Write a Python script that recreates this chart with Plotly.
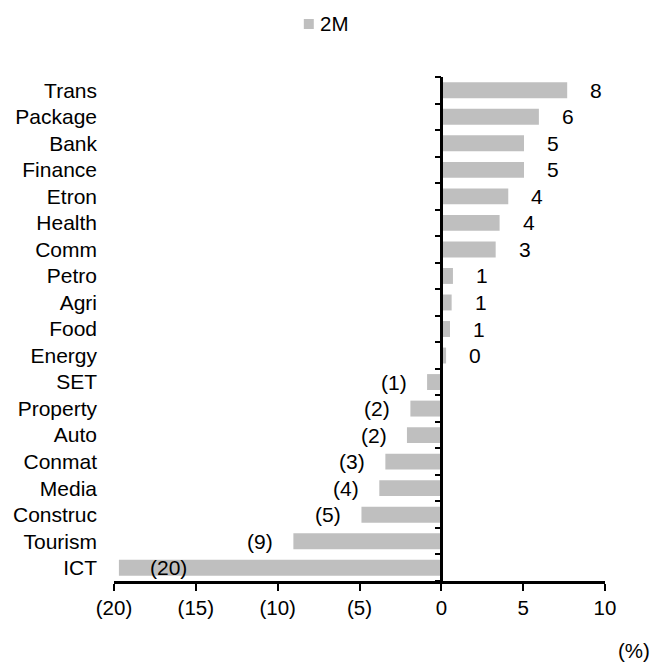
import plotly.graph_objects as go

# Sector returns over two months (%), top to bottom as listed
sectors = ["Trans", "Package", "Bank", "Finance", "Etron", "Health", "Comm",
           "Petro", "Agri", "Food", "Energy", "SET", "Property", "Auto",
           "Conmat", "Media", "Construc", "Tourism", "ICT"]
returns_2m = [7.69, 5.96, 5.05, 5.05, 4.09, 3.56, 3.32,
              0.71, 0.63, 0.53, 0.29, -0.87, -1.89, -2.10,
              -3.42, -3.79, -4.88, -9.04, -19.7]
x_ticks = [-20, -15, -10, -5, 0, 5, 10]
series_name = "2M"
unit_label = "(%)"

FONT = "Liberation Sans, Arial, sans-serif"
FS = 21
BAR = "#BFBFBF"

W, H = 653, 664
ML, MR, MT, MB = 114, 47.5, 77, 83
X_MIN, X_MAX = -20, 10


def fmt(v):
    return f"{v:.0f}" if v >= 0 else f"({abs(v):.0f})"


def px_to_paper(px, py):
    """Convert page pixels to paper coordinates of the plot area."""
    pw = W - ML - MR
    ph = H - MT - MB
    return (px - ML) / pw, (H - MB - py) / ph


# plot from the bottom category upwards
order = list(reversed(sectors))

fig = go.Figure()
fig.add_trace(go.Bar(
    x=returns_2m, y=sectors, orientation="h", name=series_name,
    marker=dict(color=BAR, line=dict(width=0)),
    showlegend=False,
))
# empty trace to carry the zero-line axis
fig.add_trace(go.Scatter(x=[None], y=[None], yaxis="y2", showlegend=False,
                         hoverinfo="skip"))

# value labels beside the bar ends
for s, v in zip(sectors, returns_2m):
    if v >= 0:
        xanchor, shift = "left", 21
    elif v < X_MIN + 3:
        # no room outside the bar: keep the label inside it
        xanchor, shift = "left", 29
    else:
        xanchor, shift = "right", -18
    fig.add_annotation(x=v, y=s, xref="x", yref="y", text=fmt(v),
                       showarrow=False, xanchor=xanchor, yanchor="middle",
                       xshift=shift, font=dict(family=FONT, size=FS, color="black"))

# unit note under the right end of the axis
fig.add_annotation(text=unit_label, xref="paper", yref="paper", x=1, y=0,
                   xanchor="left", yanchor="middle", xshift=11, yshift=-69,
                   showarrow=False, font=dict(family=FONT, size=FS - 0.5, color="black"))

# legend key at the top: swatch plus series name
sx0, sy0 = px_to_paper(304, 19)
sx1, sy1 = px_to_paper(314, 29)
fig.add_shape(type="rect", xref="paper", yref="paper",
              x0=sx0, x1=sx1, y0=sy1, y1=sy0,
              fillcolor=BAR, line=dict(width=0))
tx, ty = px_to_paper(318, 24)
fig.add_annotation(text=series_name, xref="paper", yref="paper", x=tx, y=ty,
                   xanchor="left", yanchor="middle", showarrow=False,
                   font=dict(family=FONT, size=FS - 0.5, color="black"))

n = len(sectors)
zero_pos = (0 - X_MIN) / (X_MAX - X_MIN)

fig.update_layout(
    width=W, height=H,
    margin=dict(l=ML, r=MR, t=MT, b=MB),
    paper_bgcolor="white", plot_bgcolor="white",
    font=dict(family=FONT, size=FS, color="black"),
    bargap=0.4,
    showlegend=False,
    xaxis=dict(
        range=[X_MIN, X_MAX], tickmode="array", tickvals=x_ticks,
        ticktext=[fmt(t) for t in x_ticks],
        showgrid=False, zeroline=False,
        showline=True, linecolor="black", linewidth=2.5,
        ticks="outside", ticklen=7, tickwidth=2, tickcolor="black",
        tickfont=dict(family=FONT, size=FS - 0.5, color="black"),
    ),
    yaxis=dict(
        type="category", categoryorder="array", categoryarray=order,
        range=[-0.5, n - 0.5],
        showgrid=False, zeroline=False, showline=False,
        ticks="", ticklabelstandoff=16,
        tickfont=dict(family=FONT, size=FS, color="black"),
    ),
    yaxis2=dict(
        overlaying="y", anchor="free", position=zero_pos,
        range=[-0.5, n - 0.5], tickmode="array",
        tickvals=[i - 0.5 for i in range(n + 1)],
        showticklabels=False, showgrid=False, zeroline=False,
        showline=True, linecolor="black", linewidth=2.5,
        ticks="outside", ticklen=6, tickwidth=2, tickcolor="black",
    ),
)

fig.write_html("out.html")
